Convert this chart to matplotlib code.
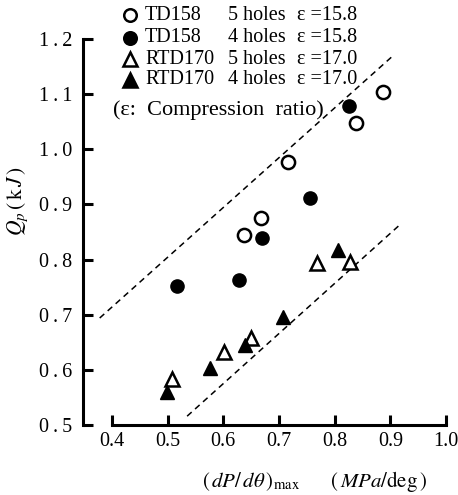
import matplotlib
matplotlib.use("Agg")
import matplotlib.pyplot as plt
from matplotlib.lines import Line2D

plt.rcParams['font.family'] = ['Liberation Serif', 'DejaVu Serif']
plt.rcParams['mathtext.fontset'] = 'stix'

# Data
td158_5_x = [0.887, 0.838, 0.716, 0.668, 0.637]
td158_5_y = [1.103, 1.048, 0.977, 0.876, 0.845]
td158_4_x = [0.826, 0.755, 0.669, 0.628, 0.517]
td158_4_y = [1.079, 0.912, 0.839, 0.763, 0.752]
rtd170_5_x = [0.827, 0.768, 0.649, 0.601, 0.508]
rtd170_5_y = [0.796, 0.794, 0.658, 0.632, 0.583]
rtd170_4_x = [0.806, 0.707, 0.639, 0.576, 0.499]
rtd170_4_y = [0.817, 0.696, 0.645, 0.603, 0.560]
upper_x = [0.378, 0.903]
upper_y = [0.694, 1.168]
lower_x = [0.535, 0.917]
lower_y = [0.516, 0.863]

x_ticks = [0.4, 0.5, 0.6, 0.7, 0.8, 0.9, 1.0]
y_ticks = [0.5, 0.6, 0.7, 0.8, 0.9, 1.0, 1.1, 1.2]

legend_names = ["TD158", "TD158", "RTD170", "RTD170"]
legend_holes = ["5 holes", "4 holes", "5 holes", "4 holes"]
legend_eps = ["ε =15.8", "ε =15.8", "ε =17.0", "ε =17.0"]


def spaced(v, sp="\u2009"):
    return sp.join(f"{v:.1f}")


W, H = 458, 495
fig = plt.figure(figsize=(W/100, H/100), dpi=100)
ax = fig.add_axes([83/W, 70/H, (446-83)/W, (425-39)/H])
ax.set_xlim(0.348, 1.0)
ax.set_ylim(0.5, 1.2)

dash = (4, 3)
ax.plot(upper_x, upper_y, color='black', lw=1.1, dashes=dash, zorder=1)
ax.plot(lower_x, lower_y, color='black', lw=1.1, dashes=dash, zorder=1)

ms_c = 9.5
ms_t = 10.5
ax.plot(td158_5_x, td158_5_y, 'o', ms=ms_c, mfc='white', mec='black', mew=1.8, ls='none', zorder=3)
ax.plot(td158_4_x, td158_4_y, 'o', ms=ms_c, mfc='black', mec='black', ls='none', zorder=3)
ax.plot(rtd170_5_x, rtd170_5_y, '^', ms=ms_t, mfc='white', mec='black', mew=1.8, ls='none', zorder=3)
ax.plot(rtd170_4_x, rtd170_4_y, '^', ms=ms_t, mfc='black', mec='black', ls='none', zorder=4)

for s in ['top', 'right']:
    ax.spines[s].set_visible(False)
ax.spines['left'].set_bounds(0.5, 1.2)
ax.spines['bottom'].set_bounds(0.4, 1.0)
for s in ['left', 'bottom']:
    ax.spines[s].set_linewidth(2.2)

ax.set_xticks(x_ticks)
ax.set_xticklabels([f"{v:.1f}" for v in x_ticks])
ax.set_yticks(y_ticks)
ax.set_yticklabels([spaced(v) for v in y_ticks])
ax.tick_params(axis='both', direction='in', length=7, width=2.2, labelsize=14.5)
ax.tick_params(axis='y', pad=8)
ax.tick_params(axis='x', pad=5)

# Legend drawn manually above the axes
rows_y = [15, 38, 59, 80]
markers = [('o', 'white', ms_c), ('o', 'black', ms_c), ('^', 'white', ms_t), ('^', 'black', ms_t)]
for ry, (m, fc, ms), nm, hl, ep in zip(rows_y, markers, legend_names, legend_holes, legend_eps):
    yf = 1 - ry/H
    fig.add_artist(Line2D([130/W], [yf], marker=m, ms=ms*0.95, mfc=fc, mec='black', mew=1.8, ls='none'))
    fig.text(145/W, yf, nm, fontsize=14.5, va='center', ha='left')
    fig.text(228/W, yf, hl, fontsize=14.5, va='center', ha='left')
    fig.text(297/W, yf, ep, fontsize=14.5, va='center', ha='left')

fig.text(113/W, 1 - 110/H, "(ε:  Compression  ratio)", fontsize=16, va='center', ha='left')

fig.text(18/W, 1 - 201/H, r"$Q_p\,(\,\mathrm{k}\,J\,)$", fontsize=15.5, rotation=90, va='center', ha='center')
fig.text(314/W, 1 - 482/H, r"$(\,dP/\,d\theta\,)_{\mathrm{max}}$      $(\,MPa/\mathrm{deg}\,)$", fontsize=15, va='center', ha='center')

fig.savefig("out.png", dpi=100)
